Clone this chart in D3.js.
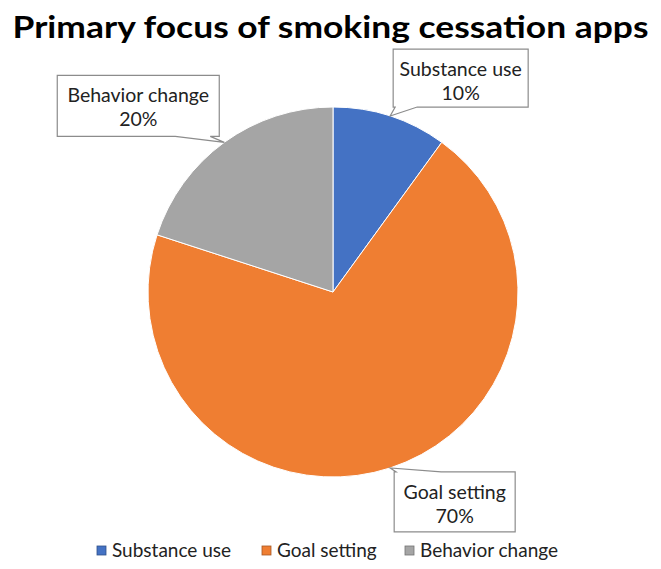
<!DOCTYPE html>
<html><head><meta charset="utf-8">
<script src="https://cdn.jsdelivr.net/npm/d3@7"></script>
<style>html,body{margin:0;padding:0;background:#fff;}</style>
</head><body>
<svg id="chart" width="661" height="569"></svg>
<script>
const title = "Primary focus of smoking cessation apps";
const categories = ["Substance use", "Goal setting", "Behavior change"];
const values = [10, 70, 20];
const colors = ["#4472C4", "#EF7E32", "#A5A5A5"];

// callout layout (box relative to slice edge anchor): dx0, dy0, dx1, dy1, wedge side, wedge x offsets from box left
const callouts = [
  {dx0: 3, dy0: -67, dx1: 138, dy1: -9, side: "bottom", wA: 2, wB: 24},
  {dx0: 4, dy0: 4, dx1: 125, dy1: 64, side: "top", wA: 2, wB: 47},
  {dx0: -167, dy0: -67, dx1: -5, dy1: -6, side: "bottom", wA: 118, wB: 153}
];

const svg = d3.select("#chart");
const W = 661, H = 569;
const cx = 333, cy = 292, R = 185;
const font = "Lato, 'Open Sans', sans-serif";

svg.append("text")
  .attr("x", W / 2).attr("y", 38)
  .attr("text-anchor", "middle")
  .attr("font-family", font).attr("font-weight", "bold")
  .attr("font-size", 30)
  .attr("textLength", 636).attr("lengthAdjust", "spacingAndGlyphs")
  .attr("fill", "#000")
  .text(title);

const data = categories.map((c, i) => ({cat: c, value: values[i], color: colors[i]}));
const pie = d3.pie().sort(null).value(d => d.value);
const arcs = pie(data);
const arc = d3.arc().innerRadius(0).outerRadius(R);

const g = svg.append("g").attr("transform", `translate(${cx},${cy})`);
g.selectAll("path.slice").data(arcs).join("path")
  .attr("class", "slice")
  .attr("d", arc)
  .attr("fill", d => d.data.color)
  .attr("stroke", "#fff").attr("stroke-width", 1);

const total = d3.sum(values);
const fmt = v => Math.round(v / total * 100) + "%";

arcs.forEach((a, i) => {
  const mid = (a.startAngle + a.endAngle) / 2;
  const ax = cx + R * Math.sin(mid), ay = cy - R * Math.cos(mid);
  const c = callouts[i];
  const x0 = ax + c.dx0, y0 = ay + c.dy0, x1 = ax + c.dx1, y1 = ay + c.dy1;
  const wa = x0 + c.wA, wb = x0 + c.wB;
  let p;
  if (c.side === "bottom") {
    p = `M${x0},${y0}H${x1}V${y1}H${wb}L${ax},${ay}L${wa},${y1}H${x0}Z`;
  } else {
    p = `M${x0},${y0}H${wa}L${ax},${ay}L${wb},${y0}H${x1}V${y1}H${x0}Z`;
  }
  svg.append("path").attr("d", p)
    .attr("fill", "#fff").attr("stroke", "#8c8c8c").attr("stroke-width", 1.2);
  const mx = (x0 + x1) / 2;
  svg.append("text").attr("x", mx).attr("y", y0 + 27)
    .attr("text-anchor", "middle").attr("font-family", font).attr("font-size", 19.5)
    .attr("fill", "#222").text(a.data.cat);
  svg.append("text").attr("x", mx).attr("y", y0 + 51)
    .attr("text-anchor", "middle").attr("font-family", font).attr("font-size", 19.5)
    .attr("fill", "#222").text(fmt(a.data.value));
});

// legend
const legendX = [97, 262, 405];
const lg = svg.append("g");
data.forEach((d, i) => {
  lg.append("rect").attr("x", legendX[i]).attr("y", 546).attr("width", 9).attr("height", 9)
    .attr("fill", d.color).attr("stroke", d3.color(d.color).darker(1)).attr("stroke-width", 0.8);
  lg.append("text").attr("x", legendX[i] + 15).attr("y", 557)
    .attr("font-family", font).attr("font-size", 19).attr("fill", "#222").text(d.cat);
});
</script>
</body></html>
